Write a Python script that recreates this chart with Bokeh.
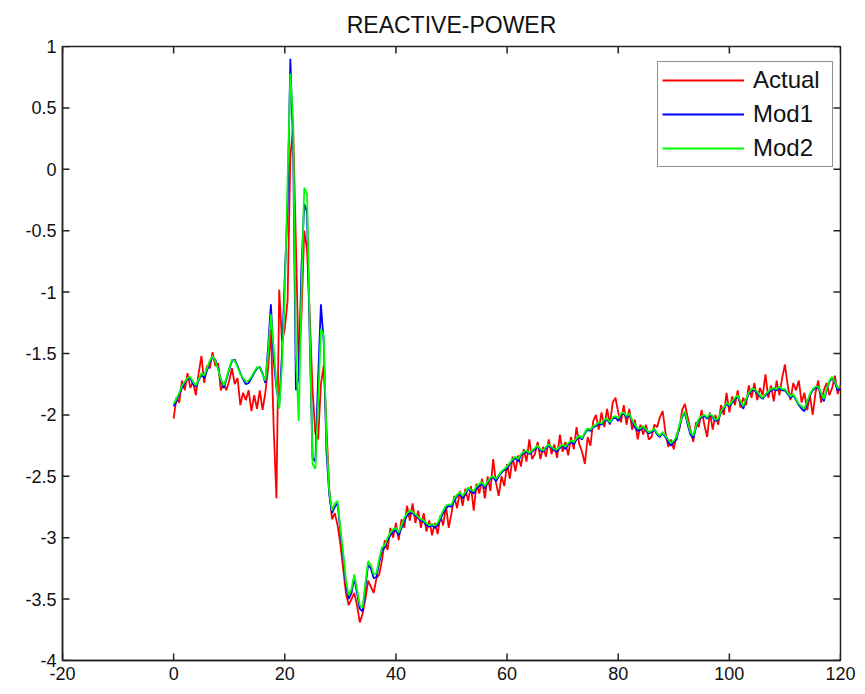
from bokeh.plotting import figure
from bokeh.models import Range1d, FixedTicker, Legend, LegendItem
from bokeh.embed import file_html
from bokeh.resources import INLINE

# sample grid (time axis, step 0.5)
t = [i * 0.5 for i in range(241)]

actual = [
    -2.03, -1.86, -1.90, -1.72, -1.80, -1.66, -1.78, -1.73, -1.84, -1.66,
    -1.52, -1.74, -1.60, -1.62, -1.49, -1.60, -1.58, -1.80, -1.74, -1.80,
    -1.72, -1.62, -1.75, -1.70, -1.92, -1.82, -1.88, -1.80, -1.97, -1.84,
    -1.95, -1.80, -1.96, -1.82, -1.62, -1.30, -2.10, -2.68, -0.98, -1.40,
    -1.30, -1.07, 0.10, 0.35, -0.60, -1.60, -1.20, -0.50, -0.65, -1.20,
    -1.80, -2.15, -2.20, -1.75, -1.60, -2.10, -2.60, -2.85, -2.80, -2.90,
    -3.05, -3.25, -3.45, -3.55, -3.50, -3.45, -3.55, -3.69, -3.62, -3.50,
    -3.35, -3.40, -3.45, -3.33, -3.30, -3.18, -3.02, -3.10, -2.92, -3.00,
    -2.88, -3.02, -2.85, -2.92, -2.74, -2.86, -2.72, -2.88, -2.78, -2.92,
    -2.80, -2.95, -2.86, -2.98, -2.88, -2.97, -2.82, -2.90, -2.74, -2.92,
    -2.80, -2.66, -2.76, -2.62, -2.74, -2.60, -2.70, -2.58, -2.78, -2.56,
    -2.64, -2.52, -2.68, -2.50, -2.62, -2.36, -2.55, -2.66, -2.50, -2.58,
    -2.40, -2.52, -2.34, -2.46, -2.33, -2.42, -2.28, -2.38, -2.20, -2.36,
    -2.32, -2.22, -2.36, -2.26, -2.34, -2.20, -2.32, -2.24, -2.35, -2.16,
    -2.30, -2.22, -2.33, -2.18, -2.28, -2.10, -2.24, -2.30, -2.40, -2.18,
    -2.25, -2.05, -2.00, -2.12, -1.98, -2.10, -1.95, -2.08, -1.90, -1.86,
    -1.98, -2.06, -1.92, -2.08, -1.95, -2.12, -2.04, -2.20, -2.08, -2.16,
    -2.08, -2.20, -2.18, -2.08, -2.10, -2.02, -1.97, -2.14, -2.26, -2.20,
    -2.28, -2.16, -2.12, -1.96, -1.91, -2.02, -2.12, -2.22, -2.06, -2.10,
    -1.96, -2.08, -2.18, -1.98, -2.12, -2.00, -2.08, -1.92, -2.00, -1.82,
    -1.98, -1.85, -1.92, -1.80, -1.94, -1.86, -1.92, -1.76, -1.86, -1.74,
    -1.88, -1.78, -1.84, -1.67, -1.86, -1.76, -1.89, -1.72, -1.84, -1.70,
    -1.59, -1.76, -1.88, -1.74, -1.80, -1.72, -1.90, -1.82, -1.96, -1.84,
    -2.00, -1.82, -1.72, -1.90, -1.80, -1.74, -1.84, -1.78, -1.68, -1.83,
    -1.76,
]

mod1 = [
    -1.93, -1.89, -1.83, -1.78, -1.74, -1.71, -1.70, -1.75, -1.77, -1.72,
    -1.67, -1.70, -1.64, -1.57, -1.53, -1.55, -1.62, -1.72, -1.78, -1.71,
    -1.63, -1.56, -1.55, -1.60, -1.66, -1.71, -1.75, -1.74, -1.70, -1.66,
    -1.62, -1.61, -1.66, -1.74, -1.45, -1.10, -1.55, -1.78, -1.92, -1.50,
    -0.88, -0.30, 0.90, 0.20, -1.80, -1.70, -0.80, -0.28, -0.35, -1.40,
    -2.35, -2.38, -1.70, -1.10, -1.40, -2.30, -2.65, -2.80, -2.75, -2.72,
    -2.95, -3.15, -3.38, -3.50, -3.45, -3.33, -3.45, -3.58, -3.60, -3.40,
    -3.22, -3.25, -3.33, -3.32, -3.20, -3.10, -3.08, -3.02, -2.98, -2.95,
    -2.94, -2.98, -2.92, -2.86, -2.82, -2.80, -2.80, -2.82, -2.84, -2.86,
    -2.87, -2.90, -2.91, -2.90, -2.92, -2.90, -2.85, -2.80, -2.76, -2.74,
    -2.75, -2.70, -2.66, -2.64, -2.68, -2.65, -2.60, -2.62, -2.64, -2.60,
    -2.58, -2.56, -2.60, -2.55, -2.52, -2.51, -2.54, -2.50, -2.47, -2.45,
    -2.44, -2.40, -2.37, -2.35, -2.38, -2.33, -2.31, -2.30, -2.32, -2.30,
    -2.28, -2.26, -2.29, -2.30, -2.27, -2.25, -2.27, -2.29, -2.30, -2.27,
    -2.25, -2.28, -2.24, -2.22, -2.24, -2.20, -2.18, -2.20, -2.15, -2.12,
    -2.13, -2.10, -2.09, -2.07, -2.08, -2.05, -2.04, -2.07, -2.03, -2.02,
    -2.05, -2.00, -1.99, -2.02, -2.00, -2.05, -2.10, -2.13, -2.12, -2.10,
    -2.13, -2.15, -2.14, -2.12, -2.16, -2.18, -2.15, -2.18, -2.22, -2.25,
    -2.22, -2.20, -2.10, -2.02, -1.98, -2.08, -2.16, -2.19, -2.10, -2.04,
    -2.02, -2.01, -2.03, -2.00, -2.02, -2.05, -2.04, -1.98, -1.95, -1.91,
    -1.93, -1.90, -1.87, -1.85, -1.90, -1.95, -1.88, -1.83, -1.80, -1.80,
    -1.82, -1.85, -1.87, -1.84, -1.82, -1.80, -1.79, -1.80, -1.78, -1.80,
    -1.80, -1.83, -1.86, -1.84, -1.88, -1.92, -1.95, -1.97, -1.90, -1.84,
    -1.80, -1.78, -1.78, -1.83, -1.89, -1.80, -1.73, -1.70, -1.74, -1.80,
    -1.78,
]

mod2 = [
    -1.91, -1.87, -1.82, -1.76, -1.73, -1.70, -1.69, -1.73, -1.76, -1.71,
    -1.66, -1.68, -1.62, -1.56, -1.52, -1.56, -1.63, -1.71, -1.76, -1.70,
    -1.62, -1.55, -1.56, -1.61, -1.67, -1.70, -1.73, -1.72, -1.69, -1.65,
    -1.61, -1.62, -1.67, -1.72, -1.50, -1.18, -1.45, -1.75, -1.95, -1.60,
    -1.00, -0.10, 0.78, 0.40, -1.50, -2.05, -1.00, -0.15, -0.20, -1.30,
    -2.40, -2.44, -1.90, -1.30, -1.35, -2.20, -2.62, -2.78, -2.72, -2.70,
    -2.92, -3.12, -3.35, -3.47, -3.42, -3.30, -3.42, -3.55, -3.57, -3.37,
    -3.19, -3.22, -3.30, -3.29, -3.17, -3.08, -3.06, -3.00, -2.96, -2.93,
    -2.92, -2.96, -2.90, -2.84, -2.80, -2.78, -2.79, -2.81, -2.83, -2.85,
    -2.86, -2.88, -2.90, -2.89, -2.90, -2.88, -2.83, -2.78, -2.74, -2.73,
    -2.73, -2.68, -2.65, -2.63, -2.66, -2.63, -2.59, -2.61, -2.62, -2.58,
    -2.56, -2.55, -2.58, -2.54, -2.51, -2.50, -2.52, -2.49, -2.46, -2.44,
    -2.42, -2.39, -2.36, -2.34, -2.36, -2.32, -2.30, -2.29, -2.31, -2.29,
    -2.27, -2.25, -2.28, -2.29, -2.26, -2.24, -2.26, -2.28, -2.28, -2.26,
    -2.24, -2.26, -2.23, -2.21, -2.22, -2.19, -2.17, -2.19, -2.14, -2.11,
    -2.12, -2.09, -2.08, -2.06, -2.07, -2.04, -2.03, -2.06, -2.02, -2.01,
    -2.03, -1.99, -1.98, -2.01, -1.99, -2.04, -2.08, -2.11, -2.11, -2.09,
    -2.12, -2.14, -2.13, -2.11, -2.15, -2.17, -2.14, -2.17, -2.20, -2.23,
    -2.21, -2.18, -2.08, -2.01, -1.97, -2.06, -2.14, -2.17, -2.09, -2.03,
    -2.01, -2.00, -2.02, -1.99, -2.01, -2.04, -2.03, -1.97, -1.94, -1.90,
    -1.92, -1.89, -1.86, -1.84, -1.89, -1.93, -1.87, -1.82, -1.79, -1.79,
    -1.81, -1.84, -1.86, -1.83, -1.81, -1.79, -1.78, -1.79, -1.77, -1.79,
    -1.79, -1.82, -1.85, -1.83, -1.87, -1.91, -1.93, -1.95, -1.89, -1.83,
    -1.79, -1.77, -1.77, -1.82, -1.87, -1.79, -1.72, -1.69, -1.73, -1.78,
    -1.77,
]

series_names = ["Actual", "Mod1", "Mod2"]
series_colors = ["#ff0000", "#0000ff", "#00ff00"]

x_ticks = [-20, 0, 20, 40, 60, 80, 100, 120]
x_tick_labels = ["-20", "0", "20", "40", "60", "80", "100", "120"]
y_ticks = [-4, -3.5, -3, -2.5, -2, -1.5, -1, -0.5, 0, 0.5, 1]
y_tick_labels = ["-4", "-3.5", "-3", "-2.5", "-2", "-1.5", "-1", "-0.5", "0", "0.5", "1"]

X_MIN, X_MAX = -20, 120
Y_MIN, Y_MAX = -4, 1

W, H = 865, 694
B_LEFT, B_RIGHT, B_TOP, B_BOTTOM = 62, 25, 45, 34
TICK_PX = 7

FONT = "Liberation Sans"
DARK = "#222222"


def key(v):
    return int(v) if float(v).is_integer() else v


p = figure(
    width=W, height=H,
    x_range=Range1d(X_MIN, X_MAX), y_range=Range1d(Y_MIN, Y_MAX),
    output_backend="svg", toolbar_location=None,
    min_border_left=B_LEFT, min_border_right=B_RIGHT,
    min_border_top=B_TOP, min_border_bottom=B_BOTTOM,
    title="REACTIVE-POWER",
)
p.background_fill_color = "white"
p.border_fill_color = "white"
p.outline_line_color = DARK
p.outline_line_width = 1.5
p.xgrid.visible = False
p.ygrid.visible = False

p.title.align = "center"
p.title.text_font = FONT
p.title.text_font_size = "23px"
p.title.text_font_style = "normal"
p.title.text_color = "#111111"
p.title.standoff = 18

for ax, ticks, labels in ((p.xaxis[0], x_ticks, x_tick_labels), (p.yaxis[0], y_ticks, y_tick_labels)):
    ax.ticker = FixedTicker(ticks=ticks)
    ax.major_label_overrides = {key(v): s for v, s in zip(ticks, labels)}
    ax.major_label_text_font = FONT
    ax.major_label_text_font_size = "18px"
    ax.major_label_text_color = "#111111"
    ax.major_tick_in = 0
    ax.major_tick_out = 0
    ax.minor_tick_line_color = None
    ax.axis_line_color = DARK
    ax.axis_line_width = 1.5
    ax.major_label_standoff = 6

# data lines
renderers = []
for ys, c in zip((actual, mod1, mod2), series_colors):
    r = p.line(t, ys, line_color=c, line_width=1.8)
    renderers.append(r)

# inward tick marks: small screen-sized rectangles (1.5 x TICK_PX px) whose
# centres lie half a tick length inside each frame edge
frame_w = W - B_LEFT - B_RIGHT
frame_h = H - B_TOP - B_BOTTOM
hx = 0.5 * TICK_PX * (X_MAX - X_MIN) / frame_w
hy = 0.5 * TICK_PX * (Y_MAX - Y_MIN) / frame_h
nx, ny = len(x_ticks), len(y_ticks)
vt = dict(width=1.5, height=TICK_PX, width_units="screen", height_units="screen",
          fill_color=DARK, line_color=None)
ht = dict(width=TICK_PX, height=1.5, width_units="screen", height_units="screen",
          fill_color=DARK, line_color=None)
p.rect(x=x_ticks, y=[Y_MIN + hy] * nx, **vt)
p.rect(x=x_ticks, y=[Y_MAX - hy] * nx, **vt)
p.rect(x=[X_MIN + hx] * ny, y=y_ticks, **ht)
p.rect(x=[X_MAX - hx] * ny, y=y_ticks, **ht)

legend = Legend(
    items=[LegendItem(label=n, renderers=[r]) for n, r in zip(series_names, renderers)],
    location=(595, 493),
    label_text_font=FONT, label_text_font_size="24px", label_text_color="#111111",
    glyph_width=82, glyph_height=24, label_height=24, label_width=75,
    spacing=6, padding=4, margin=0, label_standoff=9,
    border_line_color=DARK, border_line_width=1.5,
    background_fill_color="white", background_fill_alpha=1.0,
)
p.add_layout(legend)

open("out.html", "w").write(file_html(p, INLINE))
